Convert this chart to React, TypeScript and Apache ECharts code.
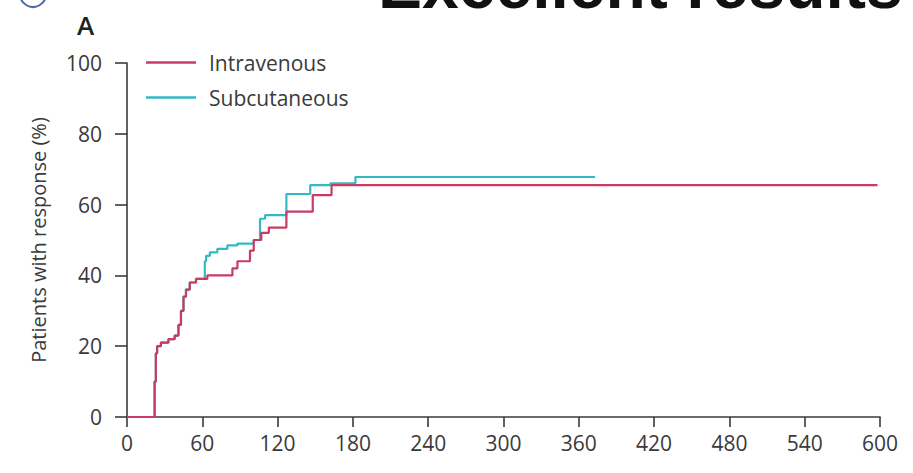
import React, { useEffect, useRef } from "react";
import * as echarts from "echarts";

const seriesNames = ["Intravenous", "Subcutaneous"];
const seriesColors = ["#c83c62", "#33b9c6"];

// [day, % with response] step points (Kaplan-Meier style)
const intravenous: [number, number][] = [
  [0, 0], [21, 0], [22, 10], [23, 18], [24, 20], [27, 21], [33, 22], [38, 23],
  [41, 26], [43, 30], [45, 34], [47, 36], [50, 38], [55, 39], [64, 40],
  [84, 42], [88, 44], [98, 47], [101, 50], [107, 52], [113, 53.5], [127, 58],
  [148, 62.7], [163, 65.5], [598, 65.5],
];
const subcutaneous: [number, number][] = [
  [0, 0], [21, 0], [22, 10], [23, 18], [24, 20], [27, 21], [33, 22], [38, 23],
  [41, 26], [43, 30], [45, 34], [47, 36], [50, 38], [55, 39], [62, 44],
  [63, 45.5], [66, 46.5], [72, 47.5], [80, 48.5], [88, 49], [101, 50],
  [106, 56], [110, 57], [127, 63], [146, 65.5], [162, 66], [182, 67.8],
  [373, 67.8],
];

const xTicks = { min: 0, max: 600, interval: 60 };
const yTicks = { min: 0, max: 100, interval: 20 };
const yAxisTitle = "Patients with response (%)";
const panelLabel = "A";
const headline = "Excellent results with";

export default function App() {
  const ref = useRef<HTMLDivElement>(null);
  useEffect(() => {
    if (!ref.current) return;
    const chart = echarts.init(ref.current, undefined, { renderer: "svg" });
    const font = "'Open Sans', sans-serif";
    const axisColor = "#3a3a3a";
    chart.setOption({
      animation: false,
      backgroundColor: "#ffffff",
      textStyle: { fontFamily: font },
      grid: { left: 127, right: 33, top: 63, bottom: 56 },
      legend: {
        orient: "vertical",
        left: 141,
        top: 46,
        icon: "rect",
        itemWidth: 50,
        itemHeight: 2.5,
        itemGap: 12,
        data: seriesNames,
        textStyle: {
          fontFamily: font,
          fontSize: 21,
          color: "#3a3a3a",
          lineHeight: 23,
          padding: [0, 0, 0, 8],
        },
      },
      xAxis: {
        type: "value",
        min: xTicks.min,
        max: xTicks.max,
        interval: xTicks.interval,
        splitLine: { show: false },
        axisLine: { show: true, lineStyle: { color: axisColor, width: 1.6 } },
        axisTick: { show: true, length: 10, lineStyle: { color: axisColor, width: 1.6 } },
        axisLabel: { color: "#3a3a3a", fontSize: 21, margin: 15, fontFamily: font },
      },
      yAxis: {
        type: "value",
        min: yTicks.min,
        max: yTicks.max,
        interval: yTicks.interval,
        name: yAxisTitle,
        nameLocation: "middle",
        nameRotate: 90,
        nameGap: 79,
        nameTextStyle: { color: "#3a3a3a", fontSize: 20, fontFamily: font },
        splitLine: { show: false },
        axisLine: { show: true, lineStyle: { color: axisColor, width: 1.6 } },
        axisTick: { show: true, length: 12, lineStyle: { color: axisColor, width: 1.6 } },
        axisLabel: { color: "#3a3a3a", fontSize: 21, margin: 25, fontFamily: font },
      },
      series: [
        {
          name: seriesNames[0],
          type: "line",
          step: "end",
          symbol: "none",
          data: intravenous,
          lineStyle: { color: seriesColors[0], width: 2.2 },
          itemStyle: { color: seriesColors[0] },
          z: 3,
        },
        {
          name: seriesNames[1],
          type: "line",
          step: "end",
          symbol: "none",
          data: subcutaneous,
          lineStyle: { color: seriesColors[1], width: 2.2 },
          itemStyle: { color: seriesColors[1] },
          z: 2,
        },
      ],
      graphic: [
        {
          type: "circle",
          shape: { cx: 33, cy: -6, r: 13 },
          style: { fill: "none", stroke: "#4c64a8", lineWidth: 2 },
        },
        {
          type: "text",
          left: 77,
          top: 12,
          style: {
            text: panelLabel,
            font: `600 26px ${font}`,
            fill: "#222",
          },
        },
        {
          type: "text",
          x: 378,
          y: 18,
          style: {
            text: headline,
            font: `bold 66px 'Liberation Sans', Arial, sans-serif`,
            fill: "#111",
            textVerticalAlign: "bottom",
          },
        },
      ],
    });
    return () => chart.dispose();
  }, []);
  return (
    <div
      ref={ref}
      style={{ position: "fixed", left: 0, top: 0, width: 913, height: 473 }}
    />
  );
}
